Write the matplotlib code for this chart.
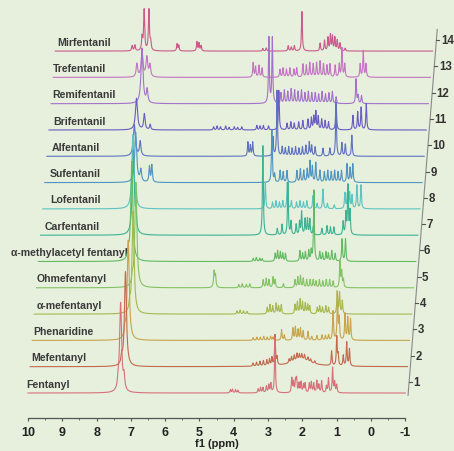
import numpy as np
import matplotlib
matplotlib.use("Agg")
import matplotlib.pyplot as plt
from matplotlib import font_manager

# traces from bottom (1) to top (14)
NAMES = ["Fentanyl", "Mefentanyl", "Phenaridine", "\u03b1-mefentanyl", "Ohmefentanyl",
         "\u03b1-methylacetyl fentanyl", "Carfentanil", "Lofentanil", "Sufentanil",
         "Alfentanil", "Brifentanil", "Remifentanil", "Trefentanil", "Mirfentanil"]
TRACE_NO = list(range(1, 15))

# peaks: (ppm, height in trace spacings[, half width ppm])
FENTANYL = [(7.30, 3.4, 0.035), (7.37, 0.3, 0.02), (7.20, 0.5, 0.025),
            (4.10, 0.12), (4.04, 0.14), (3.95, 0.12), (3.88, 0.10),
            (3.29, 0.15), (3.22, 0.2), (3.15, 0.2), (3.05, 0.25), (2.98, 0.3), (2.92, 0.35),
            (2.80, 2.1),
            (2.31, 0.55), (2.26, 0.4), (2.20, 0.45), (2.17, 0.5), (2.10, 0.35), (2.04, 0.4),
            (1.97, 0.3), (1.92, 0.35), (1.80, 0.35), (1.74, 0.4), (1.67, 0.35), (1.58, 0.45),
            (1.52, 0.3), (1.44, 0.45), (1.30, 0.25), (1.24, 0.55), (1.12, 0.95), (1.06, 0.4),
            (1.00, 0.3)]
MEFENTANYL = [(7.22, 3.6, 0.035), (7.33, 0.3, 0.02),
              (3.50, 0.12), (3.40, 0.15), (3.30, 0.18), (3.20, 0.2), (3.10, 0.22), (3.02, 0.25),
              (2.95, 0.3), (2.86, 1.15), (2.80, 0.3),
              (2.10, 0.28, 0.35),
              (2.45, 0.15), (2.38, 0.2), (2.30, 0.22), (2.22, 0.25), (2.15, 0.2), (2.08, 0.2),
              (2.00, 0.2), (1.90, 0.15), (1.82, 0.12), (1.70, 0.1),
              (1.21, 0.55), (1.06, 1.1), (1.02, 0.4), (0.87, 0.4), (0.77, 0.9), (0.69, 0.65)]
PHENARIDINE = [(7.20, 3.8, 0.035), (7.30, 0.3, 0.02),
               (3.56, 0.1), (3.45, 0.12), (3.35, 0.12), (3.25, 0.15), (3.15, 0.12), (3.05, 0.15),
               (2.98, 0.12), (2.73, 0.4), (2.65, 0.2),
               (2.40, 0.45), (2.33, 0.5), (2.25, 0.4), (2.18, 0.45), (2.10, 0.35), (1.96, 0.33),
               (1.85, 0.15), (1.70, 0.18), (1.55, 0.2), (1.45, 0.18), (1.36, 0.2),
               (1.23, 1.1), (1.10, 1.7), (1.05, 0.8), (0.88, 1.0), (0.80, 0.85), (0.72, 0.8)]
A_MEFENTANYL = [(7.12, 3.9, 0.035), (7.22, 0.3, 0.02),
                (4.09, 0.12), (4.00, 0.15), (3.90, 0.12), (3.80, 0.1),
                (3.21, 0.25), (3.13, 0.35), (3.05, 0.3), (2.95, 0.4), (2.88, 0.3), (2.80, 0.35),
                (2.40, 0.35), (2.33, 0.45), (2.25, 0.55), (2.18, 0.45), (2.10, 0.4), (2.03, 0.35),
                (1.97, 0.3), (1.75, 0.25), (1.68, 0.3), (1.60, 0.25), (1.50, 0.3), (1.42, 0.25),
                (1.17, 0.85), (1.10, 0.8), (1.02, 0.5)]
OHMEFENTANYL = [(7.10, 4.0, 0.035), (7.20, 0.3, 0.02),
                (4.82, 0.6, 0.018), (4.78, 0.45, 0.018),
                (4.10, 0.12), (4.00, 0.15), (3.88, 0.12), (3.78, 0.15),
                (3.39, 0.3), (3.30, 0.35), (3.22, 0.3), (3.10, 0.4), (3.04, 0.3), (2.80, 0.15),
                (2.46, 0.3), (2.38, 0.4), (2.30, 0.45), (2.22, 0.35), (2.12, 0.3), (2.02, 0.3),
                (1.93, 0.3), (1.85, 0.25), (1.75, 0.3), (1.65, 0.25), (1.55, 0.3), (1.45, 0.3),
                (1.35, 0.25), (1.15, 1.0), (1.10, 0.6), (1.05, 0.3)]
A_METHYLACETYL = [(7.28, 3.8, 0.035), (7.38, 0.3, 0.02),
                  (3.74, 0.12), (3.65, 0.15), (3.55, 0.12), (3.48, 0.1),
                  (3.10, 0.3), (3.03, 0.4), (2.95, 0.35), (2.88, 0.3), (2.80, 0.3),
                  (2.38, 0.4), (2.30, 0.3), (2.22, 0.35), (2.12, 0.4), (2.05, 0.4), (1.97, 2.7),
                  (1.80, 0.35), (1.72, 0.3), (1.62, 0.35), (1.55, 0.3), (1.45, 0.4), (1.35, 0.3),
                  (1.15, 0.85), (1.05, 0.85)]
CARFENTANIL = [(7.30, 3.2, 0.035), (7.22, 0.6, 0.02),
               (3.52, 3.4), (3.10, 0.25), (2.96, 0.4), (2.79, 2.0), (2.70, 0.5), (2.55, 0.4),
               (2.45, 0.5), (2.39, 0.87), (2.29, 0.6), (2.22, 0.6), (2.15, 0.6), (2.05, 0.3),
               (1.80, 0.25), (1.65, 0.35), (1.55, 0.3), (1.45, 0.3),
               (1.18, 0.5), (1.10, 0.8), (1.04, 1.86), (0.98, 0.9)]
LOFENTANIL = [(7.37, 2.8, 0.035), (7.28, 0.6, 0.02),
              (3.51, 1.0), (3.30, 0.25), (3.20, 0.3), (3.10, 0.25), (3.00, 0.3), (2.87, 1.0),
              (2.75, 0.3), (2.60, 0.25), (2.50, 0.3), (2.40, 0.25), (2.30, 0.3), (2.12, 0.5),
              (2.00, 0.2), (1.83, 0.75), (1.70, 0.2), (1.50, 0.15),
              (1.19, 0.6), (1.12, 0.55), (1.05, 0.6), (0.98, 0.5), (0.84, 0.9), (0.72, 0.9)]
SUFENTANIL = [(7.35, 1.9, 0.035), (7.20, 0.45, 0.025), (6.95, 0.6, 0.018), (6.88, 0.65, 0.018),
              (3.38, 2.0), (3.30, 0.3), (3.14, 0.45), (3.05, 0.4), (2.94, 0.45),
              (2.65, 0.45), (2.55, 0.5), (2.45, 0.45), (2.35, 0.5), (2.27, 0.8), (2.20, 0.6),
              (2.10, 0.75), (1.98, 0.45), (1.85, 0.4), (1.75, 0.45), (1.65, 0.4), (1.55, 0.45),
              (1.45, 0.4), (1.35, 0.45), (1.19, 0.7), (1.10, 0.55), (1.02, 0.7)]
ALFENTANIL = [(7.45, 1.2, 0.035), (7.28, 0.55, 0.025),
              (4.14, 0.53), (4.07, 0.4), (4.00, 0.53), (3.41, 0.72), (3.29, 2.5),
              (3.14, 0.35), (3.05, 0.3), (2.95, 0.35), (2.85, 0.3), (2.75, 0.35), (2.65, 0.3),
              (2.55, 0.35), (2.45, 0.4), (2.35, 0.53), (2.28, 0.4), (2.18, 0.35),
              (1.95, 0.3), (1.75, 0.3), (1.57, 2.05), (1.40, 0.5), (1.30, 0.45), (1.11, 0.8)]
BRIFENTANIL = [(7.45, 1.2, 0.035), (7.22, 0.6, 0.025), (7.05, 0.2, 0.02),
               (5.20, 0.12), (5.10, 0.15), (5.00, 0.12), (4.85, 0.15), (4.75, 0.1), (4.60, 0.12),
               (4.50, 0.1), (4.38, 0.12), (3.94, 0.17), (3.85, 0.15), (3.75, 0.17), (3.60, 0.15),
               (3.30, 1.5), (3.06, 0.25), (2.95, 0.3), (2.85, 0.25), (2.72, 0.3), (2.60, 0.35),
               (2.45, 0.4), (2.35, 0.45), (2.28, 0.5), (2.22, 0.68), (2.15, 0.5), (2.05, 0.4),
               (1.95, 0.35), (1.85, 0.3), (1.63, 1.05), (1.14, 0.55), (1.00, 0.68), (0.90, 0.85),
               (0.75, 1.0)]
REMIFENTANIL = [(7.35, 2.1, 0.035), (7.20, 0.5, 0.025),
                (3.65, 2.5), (3.55, 2.5), (3.30, 0.4), (3.20, 0.5), (3.10, 0.45), (3.00, 0.55),
                (2.90, 0.5), (2.80, 0.45), (2.70, 0.5), (2.60, 0.4), (2.50, 0.45), (2.40, 0.4),
                (2.30, 0.4), (2.20, 0.35), (2.10, 0.45), (2.00, 0.35), (1.90, 0.4), (1.80, 0.45),
                (1.69, 0.25), (1.11, 0.93), (1.05, 0.3), (0.95, 0.3)]
TREFENTANIL = [(7.56, 0.5, 0.025), (7.41, 0.95, 0.03), (7.27, 0.75, 0.03), (7.18, 0.45, 0.025),
               (4.17, 0.55), (4.10, 0.4), (4.00, 0.45), (3.91, 0.35),
               (3.39, 0.3), (3.30, 0.35), (3.20, 0.3), (3.10, 0.35), (2.98, 0.3), (2.90, 0.35),
               (2.72, 0.5), (2.62, 0.45), (2.52, 0.55), (2.42, 0.5), (2.32, 0.55), (2.22, 0.6),
               (2.12, 0.5), (2.02, 0.45), (1.93, 0.5), (1.78, 0.45), (1.66, 0.5), (1.58, 1.1),
               (1.50, 0.5), (1.05, 0.5), (0.96, 1.0), (0.88, 0.5)]
MIRFENTANIL = [(7.76, 0.2, 0.018), (7.68, 0.22, 0.018), (7.47, 0.5, 0.018), (7.41, 1.55, 0.018),
               (7.27, 1.55, 0.018), (7.22, 0.3, 0.018),
               (6.45, 0.27), (6.40, 0.22), (5.87, 0.35), (5.81, 0.3), (5.75, 0.2),
               (3.95, 0.1), (3.85, 0.12), (3.21, 0.2), (3.12, 0.15), (3.03, 0.2), (2.81, 1.5),
               (2.28, 0.3), (2.15, 0.4), (2.05, 0.5), (1.98, 0.6), (1.92, 0.55), (1.85, 0.5),
               (1.78, 0.4), (1.70, 0.3), (1.55, 0.1)]

PEAKS = [FENTANYL, MEFENTANYL, PHENARIDINE, A_MEFENTANYL, OHMEFENTANYL, A_METHYLACETYL,
         CARFENTANIL, LOFENTANIL, SUFENTANIL, ALFENTANIL, BRIFENTANIL, REMIFENTANIL,
         TREFENTANIL, MIRFENTANIL]

COLORS = ["#d8707c", "#c4684e", "#c8a44c", "#a6b84e", "#84c264", "#62ba62", "#3cb294",
          "#5cc4c2", "#4f94c4", "#5f72c2", "#6a5cc2", "#a472cc", "#c474c4", "#cc5a8a"]

# left edge of each name label, in pixels of the 454 px wide picture
LABEL_LEFT_PX = [26, 31, 33, 37, 37, 11, 45, 50, 50, 52, 53, 52, 53, 57]

SHIFT = 0.0612      # ppm the trace moves right per step up
PX_PER_PPM = 34.3


def pick_font(names):
    for n in names:
        try:
            font_manager.findfont(font_manager.FontProperties(family=n), fallback_to_default=False)
            return n
        except ValueError:
            pass
    return "DejaVu Sans"


def spectrum(x, peaks):
    y = np.zeros_like(x)
    for p in peaks:
        c, h = p[0], p[1]
        w = p[2] if len(p) > 2 else 0.015
        y += h * w ** 2 / ((x - c) ** 2 + w ** 2)
    return y


def px_to_ppm(px):
    return 10 - (px - 28) / PX_PER_PPM


def main():
    plt.rcParams["axes.unicode_minus"] = False
    label_font = pick_font(["Liberation Sans", "Arial"])
    tick_font = pick_font(["Liberation Sans Narrow", "Liberation Sans"])
    narrow = tick_font == "Liberation Sans Narrow"

    fig = plt.figure(figsize=(4.54, 4.52), dpi=100)
    fig.patch.set_facecolor("#e6f0dc")
    ax = fig.add_axes([0, 0, 1, 1])
    ax.set_facecolor("#e6f0dc")
    ax.set_xlim(px_to_ppm(0), px_to_ppm(454))
    ax.set_ylim(-2.205, 14.98)

    x = np.linspace(10, -1, 6000)
    for k, name, peaks, col, lx in zip(TRACE_NO, NAMES, PEAKS, COLORS, LABEL_LEFT_PX):
        off = k - 1
        ax.plot(x - off * SHIFT, spectrum(x, peaks) + off, color=col, lw=0.8,
                zorder=30 - k)
        ax.text(px_to_ppm(lx), off + 0.36, name, ha="left", va="center",
                family=label_font, fontweight="bold", fontsize=7.6, color="#3a3a3a")

    # bottom ppm axis
    for s in ["top", "right", "left"]:
        ax.spines[s].set_visible(False)
    ax.spines["bottom"].set_position(("data", -0.95))
    ax.spines["bottom"].set_bounds(-1, 10)
    ax.spines["bottom"].set_color("#555555")
    ax.spines["bottom"].set_linewidth(0.9)
    ax.set_xticks(range(-1, 11))
    ax.set_xticks(np.arange(-1, 10.01, 0.5), minor=True)
    ax.set_yticks([])
    tsize = 10.5 if narrow else 9
    ax.tick_params(axis="x", which="major", direction="out", length=2.5, width=0.8,
                   pad=3.5, color="#555555", labelcolor="#222222", labelsize=tsize)
    ax.tick_params(axis="x", which="minor", direction="out", length=1.5, width=0.6,
                   color="#555555")
    for lab in ax.get_xticklabels():
        lab.set_family(tick_font)
        lab.set_fontweight("bold")
    ax.text(px_to_ppm(217), (394 - 438.5) / 26.3, "f1 (ppm)", ha="center", va="top",
            family=tick_font, fontweight="bold", fontsize=tsize - 1, color="#222222")

    # slanted trace axis on the right
    y0, y1 = -0.11, 13.84
    xr0 = px_to_ppm(408)
    ax.plot([xr0, xr0 - (y1 - y0) * SHIFT], [y0, y1], color="#8a8a8a", lw=0.8,
            solid_capstyle="butt")
    for k in TRACE_NO:
        yy = k - 1 + 0.42
        xx = xr0 - (yy - y0) * SHIFT
        ax.plot([xx, xx - 3 / PX_PER_PPM], [yy, yy], color="#555555", lw=0.8)
        ax.text(xx - 4.5 / PX_PER_PPM, yy, str(k), ha="left", va="center", family=label_font,
                fontweight="bold", fontsize=8.3, color="#333333")

    fig.savefig("out.png", dpi=100, facecolor=fig.get_facecolor())


if __name__ == "__main__":
    main()
